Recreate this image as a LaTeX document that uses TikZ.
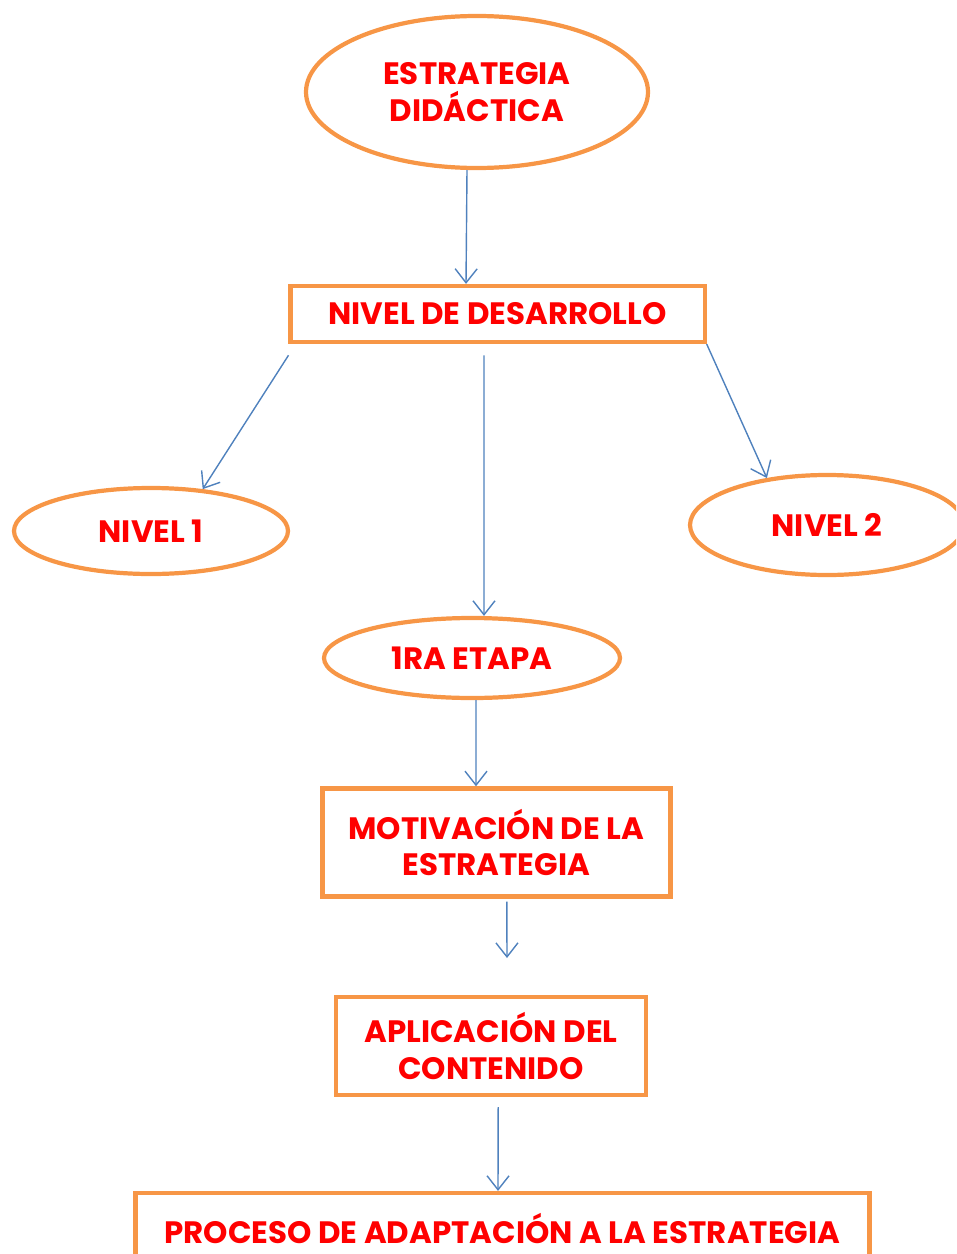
\documentclass[tikz,border=0pt]{standalone}
\usepackage{fontspec}
\setmainfont{Poppins}[BoldFont={* Bold}]
\usetikzlibrary{shapes.geometric,arrows.meta}

\definecolor{naranja}{HTML}{F79646}
\definecolor{azul}{HTML}{4F81BD}
\definecolor{rojo}{HTML}{FF0000}

\begin{document}
\begin{tikzpicture}[
    every node/.style={font=\fontsize{22}{26}\selectfont\bfseries, text=rojo, align=center},
    elipse/.style={draw=naranja, line width=3pt, ellipse, inner sep=0pt},
    caja/.style={draw=naranja, line width=3pt, rectangle, inner sep=2pt},
    flecha/.style={draw=azul, line width=1pt, -{Straight Barb[length=3.5mm,width=5.5mm]}}]
        \clip (0,0) rectangle (23.9,-31.35);
        \useasboundingbox (0,0) rectangle (23.9,-31.35);

        \node[elipse, minimum width=8.55cm, minimum height=3.8cm] (estrategia) at (11.925,-2.3) {ESTRATEGIA\\DIDÁCTICA};
        \node[caja, minimum width=10.35cm, minimum height=1.4cm] (desarrollo) at (12.44,-7.85) {NIVEL DE DESARROLLO};

        \node[elipse, minimum width=6.85cm, minimum height=2.15cm] (nivel1) at (3.775,-13.275) {NIVEL 1};
        \node[elipse, minimum width=6.85cm, minimum height=2.5cm] (nivel2) at (20.675,-13.125) {NIVEL 2};
        \node[elipse, minimum width=7.4cm, minimum height=2cm] (etapa) at (11.8,-16.45) {1RA ETAPA};

        \node[caja, minimum width=8.7cm, minimum height=2.7cm] (motivacion) at (12.41,-21.06) {MOTIVACIÓN DE LA\\ESTRATEGIA};
        \coordinate (libre) at (12.675,-23.95);
        \node[caja, minimum width=7.75cm, minimum height=2.45cm] (aplicacion) at (12.275,-26.15) {APLICACIÓN DEL\\CONTENIDO};
        \node[caja, minimum width=18.35cm, minimum height=1.75cm] (proceso) at (12.56,-30.7) {PROCESO DE ADAPTACIÓN A LA ESTRATEGIA};

        \draw[flecha] ([xshift=-0.25cm]estrategia.south) -- ([xshift=-0.79cm]desarrollo.north);
        \draw[flecha] ([yshift=-0.28cm]desarrollo.south west) -- (nivel1.39);
        \draw[flecha] ([xshift=-0.34cm,yshift=-0.28cm]desarrollo.south) -- ([xshift=0.3cm]etapa.north);
        \draw[flecha] (desarrollo.south east) -- (nivel2.142);

        \draw[flecha] ([xshift=0.1cm]etapa.south) -- ([xshift=-0.51cm]motivacion.north);
        \draw[flecha] ([xshift=0.26cm,yshift=-0.08cm]motivacion.south) -- (libre);
        \draw[flecha] ([xshift=0.18cm,yshift=-0.25cm]aplicacion.south) -- ([xshift=-0.11cm]proceso.north);
    \end{tikzpicture}
\end{document}
